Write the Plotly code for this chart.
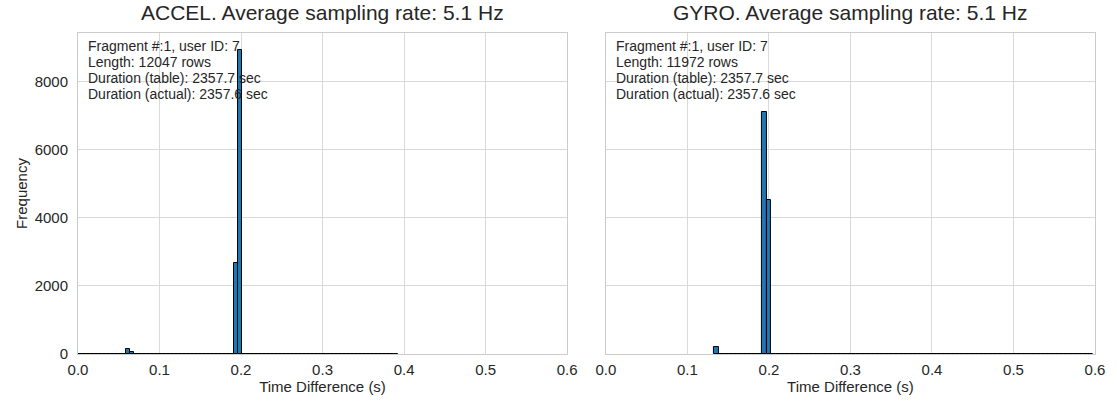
import plotly.graph_objects as go
from plotly.subplots import make_subplots

# ---- data (histogram counts, 80 bins per sensor) ----
accel_bin_start = 0.0001
accel_bin_width = 0.0049
accel_counts = (
    [3, 2, 4, 3, 2, 5, 3, 4, 6, 5, 4, 8]
    + [137, 69]
    + [8, 6, 5, 4, 5, 3, 4, 3, 2, 3, 4, 3, 2, 3, 2, 4, 3, 2, 3, 4, 5, 6, 8, 10, 14]
    + [2680, 8930]
    + [12, 9, 7, 5, 4, 3, 3]
    + [0, 1, 0]
    + [2, 3, 2, 3, 2, 2, 3, 2, 2, 1, 2, 3, 2, 1, 2, 1, 1]
    + [0, 0, 1, 0, 0, 0, 0, 0, 0, 0, 0, 1]
)

gyro_bin_start = 0.1331
gyro_bin_width = 0.0058
gyro_counts = (
    [206]
    + [3, 4, 3, 5, 4, 6, 5, 8, 10]
    + [7120, 4530]
    + [12, 8, 6, 5, 4, 3, 3, 2, 2, 2]
    + [0] * 13
    + [2]
    + [0] * 7
    + [0, 2, 3, 1]
    + [0] * 32
    + [1]
)

titles = ["ACCEL. Average sampling rate: 5.1 Hz", "GYRO. Average sampling rate: 5.1 Hz"]
info_lines = [
    ["Fragment #:1, user ID: 7", "Length: 12047 rows", "Duration (table): 2357.7 sec", "Duration (actual): 2357.6 sec"],
    ["Fragment #:1, user ID: 7", "Length: 11972 rows", "Duration (table): 2357.7 sec", "Duration (actual): 2357.6 sec"],
]
x_ticks = [0.0, 0.1, 0.2, 0.3, 0.4, 0.5, 0.6]
y_ticks = [0, 2000, 4000, 6000, 8000]

FONT = "Liberation Sans, Arial, sans-serif"
TXT = "#262626"
GRID = "#d9d9d9"
FRAME = "#cccccc"

fig = make_subplots(rows=1, cols=2, shared_yaxes=True, horizontal_spacing=0.0382)

for col, (start, w, counts) in enumerate(
    [(accel_bin_start, accel_bin_width, accel_counts), (gyro_bin_start, gyro_bin_width, gyro_counts)], start=1
):
    centers = [start + (i + 0.5) * w for i in range(len(counts))]
    fig.add_trace(
        go.Bar(
            x=centers,
            y=counts,
            width=w,
            marker=dict(color="#1f77b4", line=dict(color="black", width=1)),
            showlegend=False,
        ),
        row=1,
        col=col,
    )
    fig.update_xaxes(
        range=[0, 0.6],
        tickvals=x_ticks,
        ticktext=[f"{t:.1f}" for t in x_ticks],
        showgrid=True,
        gridcolor=GRID,
        gridwidth=1,
        zeroline=False,
        showline=True,
        linecolor=FRAME,
        linewidth=1,
        mirror=True,
        ticks="",
        ticklabelstandoff=2,
        tickfont=dict(size=15, color=TXT),
        title=dict(text="Time Difference (s)", font=dict(size=15, color=TXT), standoff=1),
        row=1,
        col=col,
    )
    fig.update_yaxes(
        range=[0, 9440],
        tickvals=y_ticks,
        showgrid=True,
        gridcolor=GRID,
        gridwidth=1,
        zeroline=False,
        showline=True,
        linecolor=FRAME,
        linewidth=1,
        mirror=True,
        ticks="",
        tickfont=dict(size=15, color=TXT),
        row=1,
        col=col,
    )
    axn = "" if col == 1 else "2"
    for i, line in enumerate(info_lines[col - 1]):
        fig.add_annotation(
            xref=f"x{axn} domain",
            yref=f"y{axn} domain",
            x=0.016,
            y=1.0,
            yshift=-13 - 16 * i,
            xanchor="left",
            yanchor="middle",
            align="left",
            showarrow=False,
            text=line,
            font=dict(size=14, color=TXT, family=FONT),
        )
    fig.add_annotation(
        xref=f"x{axn} domain",
        yref="paper",
        x=0.5,
        y=1.0,
        yshift=7,
        xanchor="center",
        yanchor="bottom",
        showarrow=False,
        text=titles[col - 1],
        font=dict(size=21, color=TXT, family=FONT),
    )

fig.update_yaxes(
    ticklabelstandoff=6,
    title=dict(text="Frequency", font=dict(size=15, color=TXT), standoff=3),
    row=1,
    col=1,
)
fig.update_yaxes(showticklabels=False, row=1, col=2)

fig.update_layout(
    width=1117,
    height=403,
    margin=dict(l=78, r=18, t=33, b=49),
    paper_bgcolor="white",
    plot_bgcolor="white",
    bargap=0,
    font=dict(family=FONT, color=TXT),
)

fig.write_html("out.html")
